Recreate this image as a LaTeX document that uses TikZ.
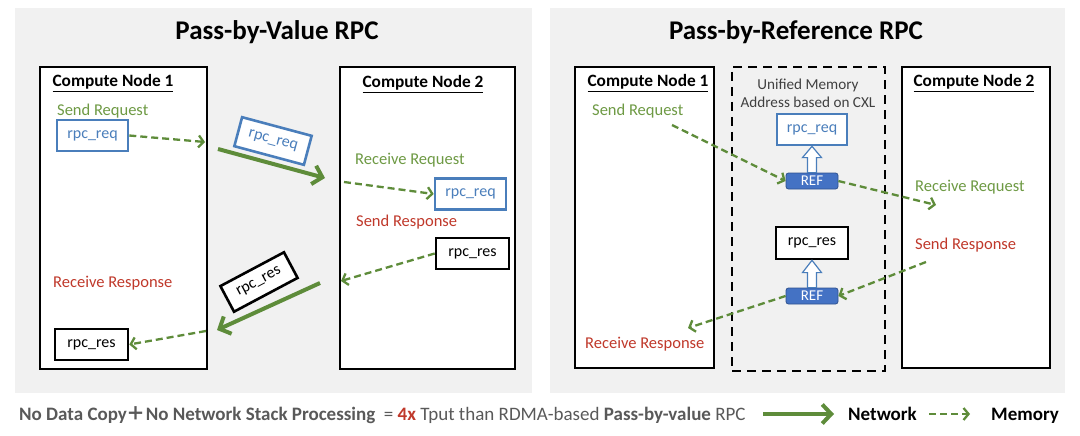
\documentclass[tikz,border=0pt]{standalone}
\usepackage{fontspec}
\setmainfont{Carlito}
\newfontfamily\cjk{Noto Sans CJK SC}
\usetikzlibrary{arrows.meta,calc}
\definecolor{panelgray}{HTML}{F1F1F1}
\definecolor{arrgreen}{HTML}{5E8C3A}
\definecolor{txtgreen}{HTML}{6E9A44}
\definecolor{txtred}{HTML}{C0392B}
\definecolor{boxblue}{HTML}{4A7EBB}
\definecolor{refblue}{HTML}{4472C4}
\definecolor{refedge}{HTML}{2F528F}
\definecolor{txtgray}{HTML}{595959}
\definecolor{memgray}{HTML}{404040}
\begin{document}
\begin{tikzpicture}[x=1pt,y=-1pt,
  panel/.style={fill=panelgray,draw=none,minimum width=#1,minimum height=385pt,inner sep=0pt},
  cnbox/.style={draw=black,line width=2.6pt,fill=white,inner sep=0pt},
  cnlabel/.style={font=\bfseries\fontsize{17.3}{19}\selectfont,inner sep=0pt},
  title/.style={font=\bfseries\fontsize{27}{32}\selectfont,inner sep=0pt},
  databox/.style={draw,line width=2.6pt,fill=white,minimum width=71pt,minimum height=31pt,inner sep=0pt,font=\fontsize{16}{18}\selectfont},
  reqbox/.style={databox,draw=boxblue,text=boxblue},
  resbox/.style={databox,draw=black},
  glabel/.style={anchor=west,inner sep=0pt,text=txtgreen,font=\fontsize{16.5}{18}\selectfont},
  rlabel/.style={anchor=west,inner sep=0pt,text=txtred,font=\fontsize{16.5}{18}\selectfont},
  net/.style={draw=arrgreen,line width=4pt,-{Straight Barb[length=9pt,width=19pt]}},
  mem/.style={draw=arrgreen,line width=2.3pt,dash pattern=on 7pt off 4pt,-{Straight Barb[length=5pt,width=12pt]}},
  refbox/.style={fill=refblue,draw=refedge,line width=0.8pt,rounded corners=2.5pt,minimum width=52pt,minimum height=16pt,inner sep=0pt,text=white,font=\fontsize{15}{16}\selectfont},
  hollow/.style={draw=boxblue,line width=1.2pt,fill=white},
  foot/.style={anchor=base west,inner sep=0pt,font=\fontsize{19}{22}\selectfont}
]
\useasboundingbox (0,0) rectangle (1080,436);
% panels
\node[panel=517pt] (lp) at (273.5,200.5) {};
\node[panel=515pt] (rp) at (807.5,200.5) {};
\node[title] (t1) at (277,32) {Pass-by-Value RPC};
\node[title] (t2) at (796,32) {Pass-by-Reference RPC};

% ---------- left panel ----------
\node[cnbox,minimum width=167pt,minimum height=302pt] (cn1) at (123.5,218) {};
\node[cnbox,minimum width=175pt,minimum height=302pt] (cn2) at (427.5,218) {};
\node[cnlabel] (cn1l) at (113,83) {\underline{Compute Node 1}};
\node[cnlabel] (cn2l) at (423,84) {\underline{Compute Node 2}};

\node[glabel] (sreq) at (57,111) {Send Request};
\node[reqbox] (req1) at (92.5,135.5) {rpc\_req};
\coordinate (a1) at (205,142);
\draw[mem] (req1.east) -- (a1);

\node[reqbox,rotate=-15,minimum width=72pt,minimum height=30pt] (reqnet) at (273,141) {rpc\_req};
\coordinate (n1s) at (218,149);
\coordinate (n1e) at (325,178);
\draw[net] (n1s) -- (n1e);

\node[glabel] (rreq) at (355,160) {Receive Request};
\coordinate (a2) at (344,182);
\node[reqbox] (req2) at (470.5,194) {rpc\_req};
\draw[mem] (a2) -- (req2.west);

\node[rlabel] (sres) at (356,222) {Send Response};
\node[resbox,minimum width=73pt] (res2) at (472.5,253.5) {rpc\_res};
\coordinate (a3) at (341,281);
\draw[mem] (res2.west) -- (a3);

\node[resbox,rotate=28,minimum width=72pt,minimum height=29pt] (resnet) at (259,282) {rpc\_res};
\coordinate (n2s) at (320,283);
\coordinate (n2e) at (217,330);
\draw[net] (n2s) -- (n2e);

\node[rlabel] (rres) at (53,283) {Receive Response};
\node[resbox,minimum width=73pt] (res1) at (91.5,344.5) {rpc\_res};
\coordinate (a4) at (206,331);
\draw[mem] (a4) -- (res1.east);

% ---------- right panel ----------
\node[cnbox,minimum width=139pt,minimum height=301pt] (rcn1) at (644.5,217.5) {};
\node[cnbox,minimum width=148pt,minimum height=301pt] (rcn2) at (976,217.5) {};
\node[draw=black,line width=2.6pt,dash pattern=on 9pt off 6pt,minimum width=153pt,minimum height=304pt,inner sep=0pt] (cxl) at (808.5,219) {};
\node[cnlabel] (rcn1l) at (648,83) {\underline{Compute Node 1}};
\node[cnlabel] (rcn2l) at (974,83) {\underline{Compute Node 2}};
\node[align=center,text=memgray,font=\fontsize{15.2}{18}\selectfont,inner sep=0pt] (uml) at (808,93) {Unified Memory\\Address based on CXL};

\node[reqbox,minimum width=70pt] (mreq) at (812,129.5) {rpc\_req};
\node[refbox] (ref1) at (812,181) {REF};
\draw[hollow] ($(ref1.north)+(-4.5,0)$) -- ($(ref1.north)+(-4.5,-15)$) -- ($(ref1.north)+(-9.5,-15)$) -- (mreq.south) -- ($(ref1.north)+(9.5,-15)$) -- ($(ref1.north)+(4.5,-15)$) -- ($(ref1.north)+(4.5,0)$) -- cycle;

\node[resbox,minimum width=72pt,minimum height=32pt] (mres) at (812,243) {rpc\_res};
\node[refbox] (ref2) at (812,296) {REF};
\draw[hollow] ($(ref2.north)+(-4.5,0)$) -- ($(ref2.north)+(-4.5,-15)$) -- ($(ref2.north)+(-9.5,-15)$) -- (mres.south) -- ($(ref2.north)+(9.5,-15)$) -- ($(ref2.north)+(4.5,-15)$) -- ($(ref2.north)+(4.5,0)$) -- cycle;

\node[glabel] (rsreq) at (592,111) {Send Request};
\coordinate (b1) at (672,125);
\draw[mem] (b1) -- (ref1.west);
\node[glabel] (rrreq) at (915,187) {Receive Request};
\coordinate (b2) at (936,205);
\draw[mem] (ref1.east) -- (b2);

\node[rlabel] (rsres) at (915,245) {Send Response};
\coordinate (b3) at (926,262);
\draw[mem] (b3) -- (ref2.east);
\coordinate (b4) at (688,328);
\draw[mem] (ref2.west) -- (b4);
\node[rlabel] (rrres) at (585,344) {Receive Response};

% ---------- footer ----------
\node[foot,text=txtgray] (foottxt) at (19,420) {\textbf{No Data Copy{\cjk\bfseries ＋}No Network Stack Processing}\ \ = \textcolor{txtred}{\textbf{4x}} Tput than RDMA-based \textbf{Pass-by-value} RPC};
\coordinate (l1s) at (763,414);
\coordinate (l1e) at (834,414);
\draw[net] (l1s) -- (l1e);
\node[foot,font=\bfseries\fontsize{19}{22}\selectfont] (lnet) at (848,420) {Network};
\coordinate (l2s) at (929,414);
\coordinate (l2e) at (970,414);
\draw[mem] (l2s) -- (l2e);
\node[foot,font=\bfseries\fontsize{19}{22}\selectfont] (lmem) at (991,420) {Memory};
\end{tikzpicture}
\end{document}
